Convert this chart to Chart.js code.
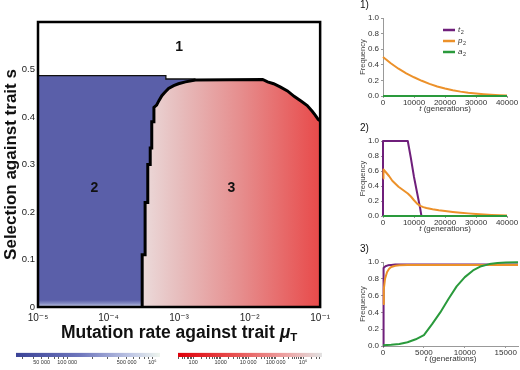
<!DOCTYPE html>
<html lang="en">
  <head>
    <meta charset="UTF-8" />
    <title>Trait loss regions</title>
    <script src="https://cdn.jsdelivr.net/npm/chart.js"></script>
    <style>
      body { margin: 0; background: #fff; width: 520px; height: 370px; position: relative; overflow: hidden; }
      canvas { position: absolute; }
      #main { left: 0; top: 0; }
      #cbBlue { left: 0; top: 346px; }
      #cbRed { left: 162px; top: 346px; }
      #panel1 { left: 340px; top: 0; }
      #panel2 { left: 340px; top: 120px; }
      #panel3 { left: 340px; top: 240px; }
    </style>
  </head>
  <body>
    <canvas id="main" width="335" height="352"></canvas>
    <canvas id="cbBlue" width="170" height="24"></canvas>
    <canvas id="cbRed" width="170" height="24"></canvas>
    <canvas id="panel1" width="180" height="118"></canvas>
    <canvas id="panel2" width="180" height="118"></canvas>
    <canvas id="panel3" width="180" height="128"></canvas>

    <script>
      // main map: mutation rate (log) vs selection s
      const xTicks = [1e-5, 1e-4, 1e-3, 1e-2, 1e-1];
      const xTickLabels = ["10⁻⁵", "10⁻⁴", "10⁻³", "10⁻²", "10⁻¹"];

      // upper edge of region 3 (black boundary)
      const boundaryMu = [3.0e-4, 3.0e-4, 3.3e-4, 3.3e-4, 3.6e-4, 3.6e-4, 3.9e-4, 3.9e-4, 4.1e-4, 4.1e-4,
        4.4e-4, 4.4e-4, 4.8e-4, 5.2e-4, 5.7e-4, 6.3e-4, 7.1e-4, 8.4e-4, 9.8e-4, 1.23e-3, 1.71e-3,
        1.53e-2, 1.8e-2, 2.19e-2, 2.75e-2, 3.44e-2, 4.32e-2, 5.41e-2, 6.56e-2, 7.72e-2, 8.51e-2, 9.38e-2, 1e-1];
      const boundaryS = [0, 0.11, 0.11, 0.22, 0.22, 0.30, 0.30, 0.335, 0.335, 0.39,
        0.39, 0.42, 0.425, 0.435, 0.445, 0.452, 0.46, 0.466, 0.47, 0.474, 0.478,
        0.479, 0.474, 0.47, 0.463, 0.455, 0.443, 0.433, 0.424, 0.412, 0.404, 0.395, 0.392];

      // upper edge of region 2
      const topMu = [1e-5, 6.5e-4, 6.5e-4, 1.71e-3];
      const topS = [0.487, 0.487, 0.48, 0.48];

      const regionLabels = ["1", "2", "3"];
      const regionMu = [1e-3, 6.3e-5, 5.5e-3];
      const regionS = [0.548, 0.25, 0.25];

      // colour bars
      const cbBlueRange = [2.5e4, 1.23e6];
      const cbBlueTicks = [5e4, 1e5, 5e5, 1e6];
      const cbBlueLabels = ["50 000", "100 000", "500 000", "10⁶"];
      const cbRedRange = [28, 4.9e6];
      const cbRedTicks = [1e2, 1e3, 1e4, 1e5, 1e6];
      const cbRedLabels = ["100", "1000", "10 000", "100 000", "10⁶"];

      // panel 1
      const p1Time = [0, 2500, 5000, 7500, 10000, 12500, 15000, 17500, 20000, 22500, 25000, 27500, 30000, 32500, 35000, 37500, 40000];
      const p1p2 = [0.5, 0.42, 0.35, 0.29, 0.24, 0.195, 0.155, 0.122, 0.095, 0.073, 0.056, 0.042, 0.031, 0.022, 0.015, 0.01, 0.006];
      const p1t2 = [0, 0, 0, 0, 0, 0, 0, 0, 0, 0, 0, 0, 0, 0, 0, 0, 0];
      const p1a2 = [0, 0, 0, 0, 0, 0, 0, 0, 0, 0, 0, 0, 0, 0, 0, 0, 0];

      // panel 2
      const p2TimeT = [0, 1, 8000, 8300, 9000, 10000, 11000, 12000, 12400, 40000];
      const p2t2 = [0, 1, 1, 0.93, 0.77, 0.52, 0.31, 0.1, 0, 0];
      const p2TimeP = [0, 150, 1000, 2000, 3000, 4000, 5000, 6000, 7000, 8000, 9000, 10000, 11000, 12000, 13000, 14000,
        16000, 18000, 20000, 22500, 25000, 27500, 30000, 32500, 35000, 37500, 40000];
      const p2p2 = [0.5, 0.62, 0.58, 0.53, 0.47, 0.43, 0.39, 0.36, 0.33, 0.3, 0.26, 0.21, 0.165, 0.135, 0.118, 0.106,
        0.09, 0.077, 0.066, 0.054, 0.044, 0.035, 0.027, 0.019, 0.013, 0.009, 0.006];
      const p2TimeA = [0, 40000];
      const p2a2 = [0, 0];

      // panel 3
      const p3TimeT = [0, 40, 100, 300, 600, 1000, 1500, 16500];
      const p3t2 = [0, 0.5, 0.93, 0.95, 0.96, 0.965, 0.97, 0.97];
      const p3TimeP = [0, 100, 250, 500, 750, 1000, 1500, 2000, 3000, 16500];
      const p3p2 = [0.5, 0.68, 0.8, 0.88, 0.92, 0.94, 0.955, 0.96, 0.965, 0.965];
      const p3TimeA = [0, 1000, 2000, 3000, 4000, 5000, 6000, 7000, 7500, 8000, 9000, 10000, 11000, 12000, 13000, 14000, 15000, 16500];
      const p3a2 = [0.01, 0.015, 0.025, 0.045, 0.08, 0.13, 0.26, 0.4, 0.48, 0.56, 0.71, 0.82, 0.9, 0.95, 0.975, 0.988, 0.993, 0.996];

      const FONT = "'Liberation Sans', 'DejaVu Sans', Arial, sans-serif";
      const zip = (xs, ys) => xs.map((x, i) => ({ x: x, y: ys[i] }));

      function redFill(ctx) {
        const chart = ctx.chart;
        const area = chart.chartArea;
        if (!area) return "#e68a8a";
        const x0 = chart.scales.x.getPixelForValue(boundaryMu[0]);
        const g = chart.ctx.createLinearGradient(x0, 0, area.right, 0);
        g.addColorStop(0, "#ebdada");
        g.addColorStop(0.2, "#e7bebe");
        g.addColorStop(0.55, "#e68e8e");
        g.addColorStop(1, "#e84a4a");
        return g;
      }

      function blueFill(ctx) {
        const area = ctx.chart.chartArea;
        if (!area) return "#5a5fa9";
        const g = ctx.chart.ctx.createLinearGradient(0, area.bottom, 0, area.bottom - 7);
        g.addColorStop(0, "#d4daee");
        g.addColorStop(0.45, "#8a91c6");
        g.addColorStop(1, "#5a5fa9");
        return g;
      }

      const mainDecor = {
        id: "mainDecor",
        afterDraw(chart) {
          const c = chart.ctx;
          const a = chart.chartArea;
          const xs = chart.scales.x;
          const ys = chart.scales.y;
          c.save();
          c.fillStyle = "#111";
          c.font = "bold 14px " + FONT;
          c.textAlign = "center";
          c.textBaseline = "middle";
          regionLabels.forEach((t, i) => {
            c.fillText(t, xs.getPixelForValue(regionMu[i]), ys.getPixelForValue(regionS[i]));
          });
          c.lineWidth = 2.5;
          c.strokeStyle = "#000";
          c.strokeRect(a.left, a.top, a.width, a.height);

          // x title with subscript
          const t1 = "Mutation rate against trait ";
          c.textAlign = "left";
          c.textBaseline = "alphabetic";
          c.font = "bold 17.5px " + FONT;
          const w1 = c.measureText(t1).width;
          c.font = "italic bold 17.5px " + FONT;
          const w2 = c.measureText("μ").width;
          c.font = "bold 11.5px " + FONT;
          const w3 = c.measureText("T").width;
          let x = (a.left + a.right) / 2 - (w1 + w2 + w3) / 2;
          const y = 338;
          c.font = "bold 17.5px " + FONT;
          c.fillText(t1, x, y);
          x += w1;
          c.font = "italic bold 17.5px " + FONT;
          c.fillText("μ", x, y);
          x += w2;
          c.font = "bold 11.5px " + FONT;
          c.fillText("T", x, y + 3);
          c.restore();
        },
      };

      new Chart(document.getElementById("main"), {
        type: "line",
        data: {
          datasets: [
            {
              label: "region 3",
              data: zip(boundaryMu, boundaryS),
              fill: "origin",
              backgroundColor: redFill,
              borderColor: "#000",
              borderWidth: 3,
              pointRadius: 0,
              order: 1,
            },
            {
              label: "region 2",
              data: zip(topMu, topS),
              fill: "origin",
              backgroundColor: blueFill,
              borderColor: "#111",
              borderWidth: 1.3,
              pointRadius: 0,
              order: 2,
            },
          ],
        },
        options: {
          responsive: false,
          animation: false,
          layout: { padding: { top: 22, right: 12, left: 0, bottom: 0 } },
          plugins: { legend: { display: false }, tooltip: { enabled: false } },
          scales: {
            x: {
              type: "logarithmic",
              min: 1e-5,
              max: 1e-1,
              afterBuildTicks: (s) => { s.ticks = xTicks.map((v) => ({ value: v })); },
              afterFit: (s) => { s.height = 45; },
              grid: { display: false, drawTicks: false },
              border: { display: false },
              ticks: {
                autoSkip: false,
                maxRotation: 0,
                padding: 5,
                color: "#222",
                font: { family: FONT, size: 10 },
                callback: (v, i) => xTickLabels[i],
              },
            },
            y: {
              min: 0,
              max: 0.6,
              afterFit: (s) => { s.width = 38; },
              grid: { display: false, drawTicks: false },
              border: { display: false },
              ticks: {
                stepSize: 0.1,
                padding: 3,
                color: "#222",
                font: { family: FONT, size: 9.5 },
                callback: (v) => (v > 0.55 ? "" : v === 0 ? "0" : v.toFixed(1)),
              },
              title: {
                display: true,
                text: "Selection against trait s",
                color: "#111",
                padding: { top: 1, bottom: 0 },
                font: { family: FONT, size: 17, weight: "bold" },
              },
            },
          },
        },
        plugins: [mainDecor],
      });

      // colour bars
      function logTicks(lo, hi) {
        const out = [];
        for (let e = Math.floor(Math.log10(lo)); e <= Math.ceil(Math.log10(hi)); e++) {
          for (let m = 1; m < 10; m++) {
            const v = m * Math.pow(10, e);
            if (v >= lo && v <= hi) out.push(v);
          }
        }
        return out;
      }

      function colorBar(id, range, ticks, labels, stops) {
        const all = logTicks(range[0], range[1]);
        new Chart(document.getElementById(id), {
          type: "line",
          data: {
            datasets: [{
              data: [{ x: range[0], y: 1 }, { x: range[1], y: 1 }],
              fill: "origin",
              borderWidth: 0,
              pointRadius: 0,
              backgroundColor: (ctx) => {
                const a = ctx.chart.chartArea;
                if (!a) return stops[0][1];
                const g = ctx.chart.ctx.createLinearGradient(a.left, 0, a.right, 0);
                stops.forEach((s) => g.addColorStop(s[0], s[1]));
                return g;
              },
            }],
          },
          options: {
            responsive: false,
            animation: false,
            layout: { padding: { top: 6.5, left: 16, right: 10, bottom: 0 } },
            plugins: { legend: { display: false }, tooltip: { enabled: false } },
            scales: {
              x: {
                type: "logarithmic",
                min: range[0],
                max: range[1],
                afterBuildTicks: (s) => { s.ticks = all.map((v) => ({ value: v })); },
                afterFit: (s) => { s.height = 13; },
                border: { display: false },
                grid: { drawOnChartArea: false, tickLength: 2, color: "#333", lineWidth: 0.8 },
                ticks: {
                  autoSkip: false,
                  maxRotation: 0,
                  padding: 0,
                  color: "#333",
                  font: { family: FONT, size: 5.5 },
                  callback: (v) => {
                    const k = ticks.findIndex((t) => Math.abs(t - v) / t < 1e-6);
                    return k < 0 ? "" : labels[k];
                  },
                },
              },
              y: { display: false, min: 0, max: 1 },
            },
          },
        });
      }

      colorBar("cbBlue", cbBlueRange, cbBlueTicks, cbBlueLabels,
        [[0, "#3b4397"], [0.45, "#6f77bd"], [0.8, "#bfc7e5"], [1, "#eef5ee"]]);
      colorBar("cbRed", cbRedRange, cbRedTicks, cbRedLabels,
        [[0, "#df000a"], [0.4, "#e85252"], [0.75, "#eda3a3"], [1, "#e2e2e2"]]);

      // side panels
      const PURPLE = "#6f1f7b";
      const ORANGE = "#ec912a";
      const GREEN = "#2a9a3c";

      function panelText(num, withLegend) {
        return {
          id: "panelText" + num,
          afterDraw(chart) {
            const c = chart.ctx;
            const a = chart.chartArea;
            c.save();
            c.fillStyle = "#111";
            c.font = "10px " + FONT;
            c.textBaseline = "middle";
            c.fillText(num + ")", 20, a.top - 13);

            // x title: italic t
            c.fillStyle = "#333";
            c.font = "italic 8px " + FONT;
            const w1 = c.measureText("t").width;
            c.font = "8px " + FONT;
            const rest = " (generations)";
            const w2 = c.measureText(rest).width;
            let x = (a.left + a.right) / 2 - (w1 + w2) / 2;
            const y = a.bottom + 13;
            c.font = "italic 8px " + FONT;
            c.fillText("t", x, y);
            c.font = "8px " + FONT;
            c.fillText(rest, x + w1, y);

            if (withLegend) {
              const names = ["t", "p", "a"];
              const cols = [PURPLE, ORANGE, GREEN];
              names.forEach((n, i) => {
                const ly = a.top + 12 + i * 11;
                c.strokeStyle = cols[i];
                c.lineWidth = 2.5;
                c.beginPath();
                c.moveTo(a.left + 60, ly);
                c.lineTo(a.left + 72, ly);
                c.stroke();
                c.fillStyle = "#333";
                c.font = "italic 8px " + FONT;
                c.fillText(n, a.left + 75, ly);
                const w = c.measureText(n).width;
                c.font = "5.5px " + FONT;
                c.fillText("2", a.left + 75 + w + 0.5, ly + 2);
              });
            }
            c.restore();
          },
        };
      }

      function panel(id, num, series, xMax, xTickVals, padTop, withLegend) {
        new Chart(document.getElementById(id), {
          type: "line",
          data: {
            datasets: series.map((s) => ({
              data: zip(s[0], s[1]),
              borderColor: s[2],
              borderWidth: 2,
              pointRadius: 0,
              fill: false,
              clip: false,
              borderJoinStyle: "round",
              order: s[3],
            })),
          },
          options: {
            responsive: false,
            animation: false,
            layout: { padding: { top: padTop, right: 180 - 43 - (xMax === 40000 ? 124 : 135), left: 0, bottom: 0 } },
            plugins: { legend: { display: false }, tooltip: { enabled: false } },
            scales: {
              x: {
                type: "linear",
                min: 0,
                max: xMax,
                afterBuildTicks: (s) => { s.ticks = xTickVals.map((v) => ({ value: v })); },
                afterFit: (s) => { s.height = 22; },
                border: { display: true, color: "#999", width: 1 },
                grid: { drawOnChartArea: false, tickLength: 2, color: "#999" },
                ticks: {
                  autoSkip: false,
                  maxRotation: 0,
                  padding: 0,
                  color: "#333",
                  font: { family: FONT, size: 8 },
                  callback: (v) => String(v),
                },
              },
              y: {
                min: 0,
                max: 1,
                afterFit: (s) => { s.width = 43; },
                border: { display: true, color: "#999", width: 1 },
                grid: { drawOnChartArea: false, tickLength: 2, color: "#999" },
                ticks: {
                  stepSize: 0.2,
                  padding: 2,
                  color: "#333",
                  font: { family: FONT, size: 8 },
                  callback: (v) => v.toFixed(1),
                },
                title: {
                  display: true,
                  text: "Frequency",
                  color: "#444",
                  padding: { top: 18, bottom: 0 },
                  font: { family: FONT, size: 7.5 },
                },
              },
            },
          },
          plugins: [panelText(num, withLegend)],
        });
      }

      panel("panel1", 1, [
        [p1Time, p1t2, PURPLE, 3],
        [p1Time, p1p2, ORANGE, 2],
        [p1Time, p1a2, GREEN, 1],
      ], 40000, [0, 10000, 20000, 30000, 40000], 18, true);

      panel("panel2", 2, [
        [p2TimeT, p2t2, PURPLE, 3],
        [p2TimeP, p2p2, ORANGE, 2],
        [p2TimeA, p2a2, GREEN, 1],
      ], 40000, [0, 10000, 20000, 30000, 40000], 21, false);

      panel("panel3", 3, [
        [p3TimeT, p3t2, PURPLE, 3],
        [p3TimeP, p3p2, ORANGE, 2],
        [p3TimeA, p3a2, GREEN, 1],
      ], 16500, [0, 5000, 10000, 15000], 22, false);
    </script>
  </body>
</html>
